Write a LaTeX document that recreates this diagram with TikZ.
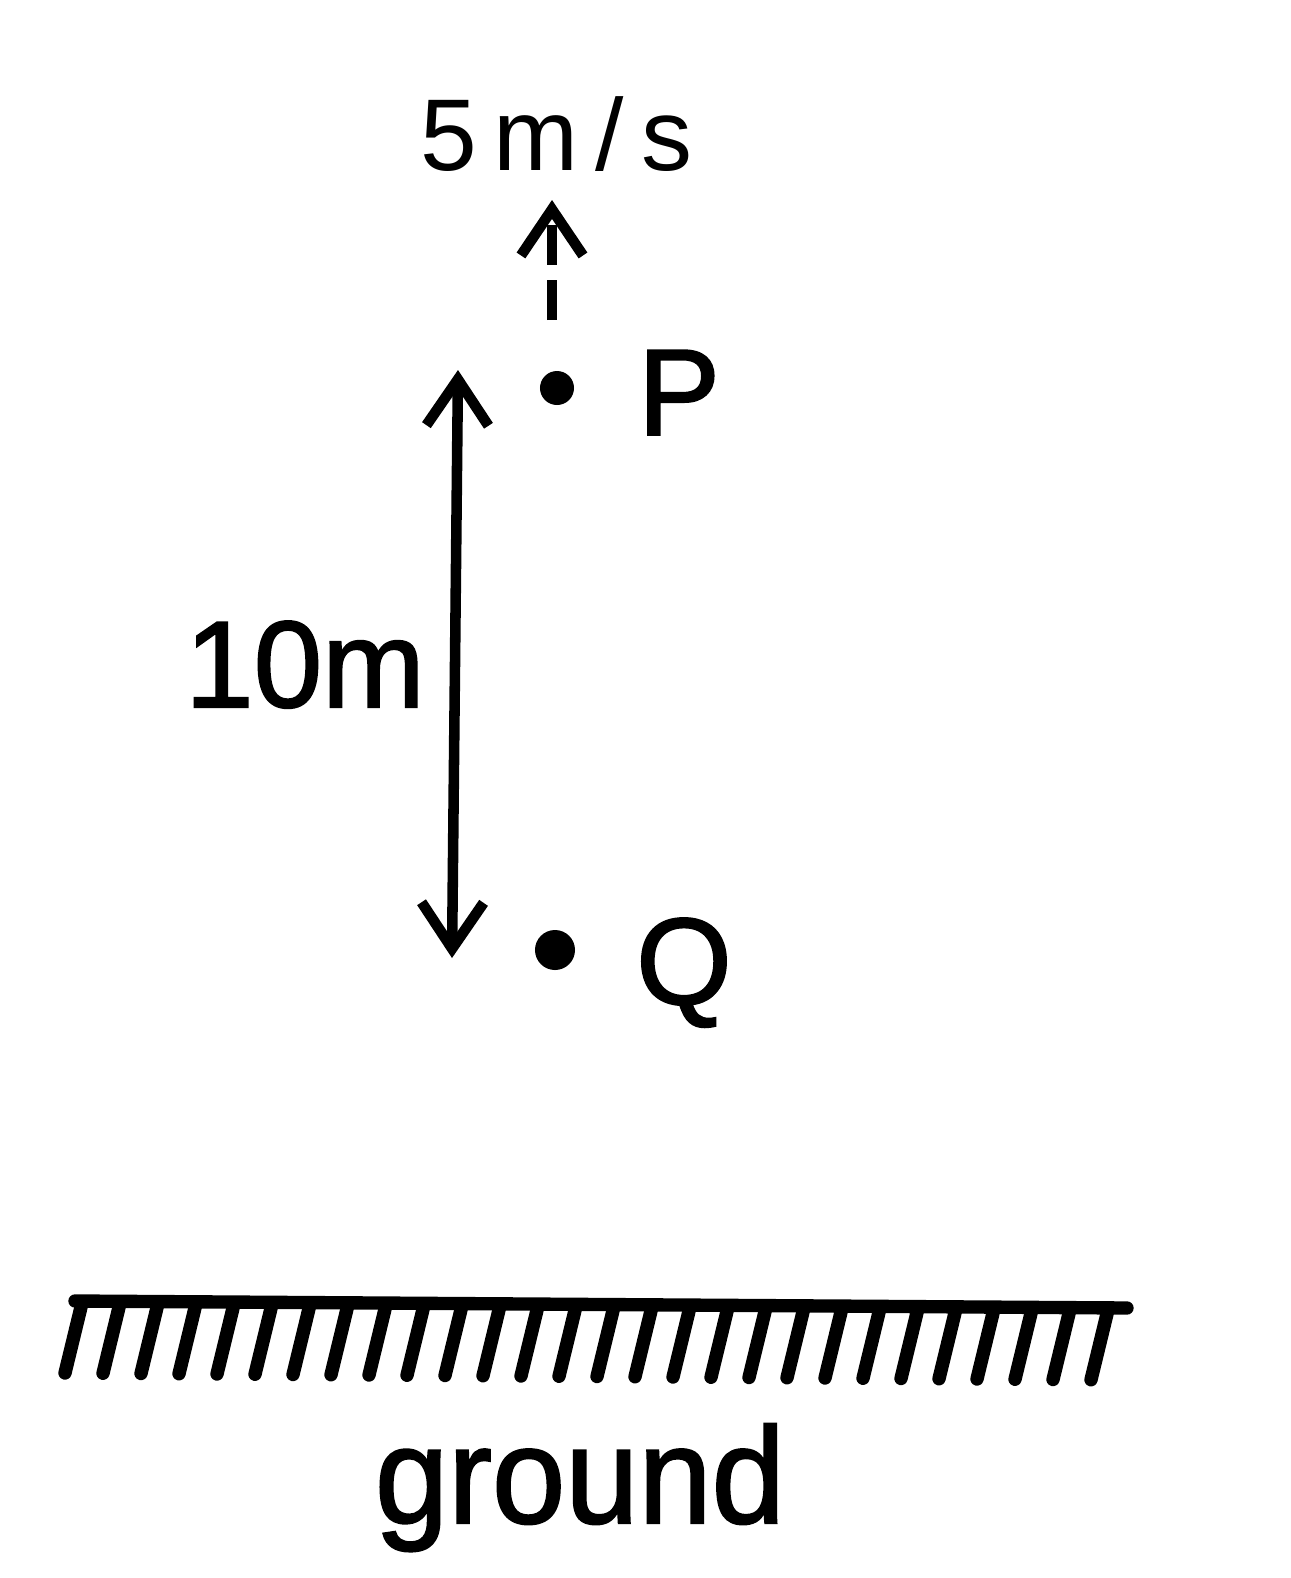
\documentclass[tikz,border=0pt]{standalone}
\usepackage{fontspec}
\setmainfont{Liberation Sans}
\newfontfamily\heavysans[FakeBold=1.6]{Liberation Sans}
\usetikzlibrary{arrows.meta}
\begin{document}
\begin{tikzpicture}[x=0.01cm,y=-0.01cm,
  lbl/.style={inner sep=0pt, anchor=base},
  pdot/.style={circle, fill=black, inner sep=0pt, minimum size=0.36cm},
  barbtip/.tip={Straight Barb[length=4.6mm,width=6.2mm]},
  hatch/.style={line width=3.8pt, line cap=round}]
\useasboundingbox (0,0) rectangle (1290,1578);
% labels
\node[lbl, font=\fontsize{29}{33}\selectfont] (vlab) at (556,170) {5\,m\,/\,s};
\node[lbl, font=\heavysans\fontsize{35}{40}\selectfont] (plab) at (679,435) {P};
\node[lbl, font=\heavysans\fontsize{35}{40}\selectfont] (qlab) at (684,1004) {Q};
\node[lbl, font=\heavysans\fontsize{35}{40}\selectfont] (dlab) at (305,707) {10m};
\node[lbl, font=\heavysans\fontsize{39}{45}\selectfont, xscale=0.96, transform shape] (glab) at (580,1523) {ground};
% points
\node[pdot, minimum size=0.34cm] (P) at (557,388) {};
\node[pdot, minimum size=0.40cm] (Q) at (555,950) {};
% velocity arrow
\coordinate (vs) at (552,320);
\coordinate (ve) at (552,200);
\draw[-barbtip, line width=3pt, dash pattern=on 0.4cm off 0.15cm] (vs) -- (ve);
% separation arrow
\coordinate (dt) at (458,370);
\coordinate (db) at (452,958);
\draw[line width=3pt, barbtip-barbtip] (dt) -- (db);
% ground
\coordinate (g1) at (75,1301);
\coordinate (g2) at (1127,1308);
\draw[line width=3.8pt, line cap=round] (g1) -- (g2);
\foreach \i in {0,...,27}{
  \pgfmathsetmacro{\xt}{82+\i*38}
  \pgfmathsetmacro{\yt}{1303+\i*0.25}
  \draw[hatch] (\xt,\yt) -- (\xt-17,\yt+70);
}
\end{tikzpicture}
\end{document}
